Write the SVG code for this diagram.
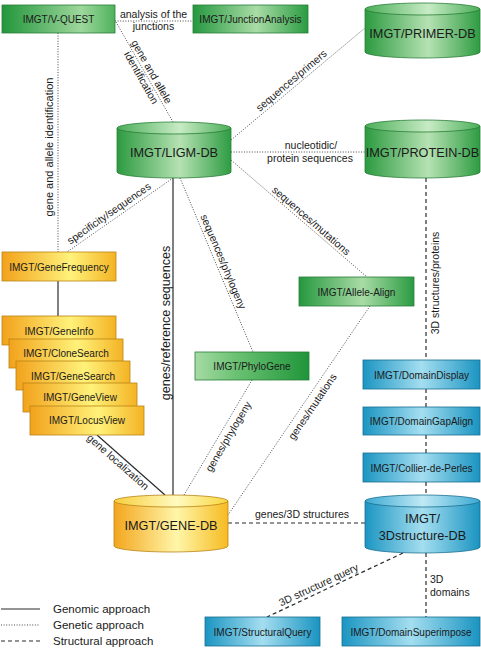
<svg xmlns="http://www.w3.org/2000/svg" width="481" height="648" viewBox="0 0 481 648">
<defs>
<linearGradient id="gLR" x1="0" y1="0" x2="1" y2="0">
<stop offset="0" stop-color="#22963c"/><stop offset="0.7" stop-color="#9ed79c"/><stop offset="1" stop-color="#4fb35d"/>
</linearGradient>
<linearGradient id="gRL" x1="0" y1="0" x2="1" y2="0">
<stop offset="0" stop-color="#a6dba4"/><stop offset="0.35" stop-color="#6cc274"/><stop offset="1" stop-color="#1f9539"/>
</linearGradient>
<linearGradient id="gMid" x1="0" y1="0" x2="1" y2="0">
<stop offset="0" stop-color="#25983f"/><stop offset="0.55" stop-color="#a9dca6"/><stop offset="1" stop-color="#2a9b42"/>
</linearGradient>
<linearGradient id="gCyl" x1="0" y1="0" x2="1" y2="0">
<stop offset="0" stop-color="#2c9a40"/><stop offset="0.55" stop-color="#b6e2b3"/><stop offset="1" stop-color="#2e9c42"/>
</linearGradient>
<linearGradient id="gCylTop" x1="0" y1="0" x2="1" y2="0">
<stop offset="0" stop-color="#4aae58"/><stop offset="0.55" stop-color="#c8ebc5"/><stop offset="1" stop-color="#4aae58"/>
</linearGradient>
<linearGradient id="oBox" x1="0" y1="0" x2="1" y2="0">
<stop offset="0" stop-color="#f2a21c"/><stop offset="0.6" stop-color="#fff27a"/><stop offset="1" stop-color="#f4b324"/>
</linearGradient>
<linearGradient id="oCyl" x1="0" y1="0" x2="1" y2="0">
<stop offset="0" stop-color="#f3a61e"/><stop offset="0.55" stop-color="#fff6a8"/><stop offset="1" stop-color="#f6bb22"/>
</linearGradient>
<linearGradient id="oCylTop" x1="0" y1="0" x2="1" y2="0">
<stop offset="0" stop-color="#f8cf3c"/><stop offset="0.55" stop-color="#fffac0"/><stop offset="1" stop-color="#f9d53c"/>
</linearGradient>
<linearGradient id="bBox" x1="0" y1="0" x2="1" y2="0">
<stop offset="0" stop-color="#1b95c2"/><stop offset="0.5" stop-color="#a4def0"/><stop offset="1" stop-color="#1a94c1"/>
</linearGradient>
<linearGradient id="bCylTop" x1="0" y1="0" x2="1" y2="0">
<stop offset="0" stop-color="#3aa9d2"/><stop offset="0.5" stop-color="#c0e9f5"/><stop offset="1" stop-color="#3aa9d2"/>
</linearGradient>
</defs>
<style>
text{font-family:"Liberation Sans",Arial,sans-serif;fill:#1a1a1a}
.bl{font-size:10px;text-anchor:middle}
.cl{font-size:12.7px;text-anchor:middle}
.el{font-size:10.5px;text-anchor:middle}
.lg{font-size:11.5px}
.gb{stroke:#2a7d39;stroke-width:0.8}
.ob{stroke:#b98415;stroke-width:0.8}
.bb{stroke:#1b6f91;stroke-width:0.8}
.solid{stroke:#2b2b2b;stroke-width:1.2;fill:none}
.dot{stroke:#4a4a4a;stroke-width:1;stroke-dasharray:1 1.6;fill:none}
.dash{stroke:#2b2b2b;stroke-width:1.2;stroke-dasharray:4 3;fill:none}
</style>

<g id="connectors">
<line class="dot" x1="115" y1="21" x2="193" y2="21"/>
<line class="dot" x1="116" y1="22" x2="173" y2="122"/>
<line class="dot" x1="58" y1="33" x2="58" y2="252"/>
<line class="dot" x1="231" y1="140" x2="365" y2="28"/>
<line class="dot" x1="231" y1="152" x2="365" y2="152"/>
<line class="dot" x1="231" y1="160" x2="367" y2="277"/>
<line class="dot" x1="173" y1="178" x2="67" y2="252"/>
<line class="solid" x1="173" y1="178" x2="173" y2="495"/>
<line class="dot" x1="180" y1="178" x2="253" y2="352"/>
<line class="dot" x1="252" y1="380" x2="184" y2="495"/>
<line class="dot" x1="370" y1="306" x2="228" y2="515"/>
<line class="solid" x1="58" y1="281" x2="58" y2="316"/>
<line class="solid" x1="97" y1="435" x2="165" y2="495"/>
<line class="dash" x1="426" y1="178" x2="426" y2="360"/>
<line class="dash" x1="426" y1="389" x2="426" y2="407"/>
<line class="dash" x1="426" y1="435" x2="426" y2="453"/>
<line class="dash" x1="426" y1="482" x2="426" y2="495"/>
<line class="dash" x1="228" y1="523" x2="365" y2="523"/>
<line class="dash" x1="403" y1="553" x2="267" y2="617"/>
<line class="dash" x1="426" y1="553" x2="426" y2="617"/>

<text class="el" x="153.5" y="18">analysis of the</text>
<text class="el" x="153.5" y="30">junctions</text>
<g transform="translate(146,75) rotate(60.3)">
<text class="el" x="0" y="-3">gene and allele</text>
<text class="el" x="0" y="9">identification</text>
</g>
<text class="el" style="font-size:11px" transform="translate(53,147) rotate(-90)" x="0" y="0">gene and allele identification</text>
<text class="el" transform="translate(295.6,85.6) rotate(-40.1)" x="0" y="-3">sequences/primers</text>
<text class="el" x="311" y="149">nucleotidic/</text>
<text class="el" x="310" y="161.5">protein sequences</text>
<text class="el" transform="translate(306.9,225.7) rotate(40.9)" x="0" y="-3">sequences/mutations</text>
<text class="el" transform="translate(113.3,219.7) rotate(-34.9)" x="0" y="-4">specificity/sequences</text>
<text class="el" style="font-size:12.5px" transform="translate(170,323) rotate(-90)" x="0" y="0">genes/reference sequences</text>
<text class="el" transform="translate(216.3,264.6) rotate(67.2)" x="0" y="-4">sequences/phylogeny</text>
<text class="el" transform="translate(221.1,432.3) rotate(-59.4)" x="0" y="12">genes/phylogeny</text>
<text class="el" transform="translate(305.1,401.6) rotate(-55.8)" x="0" y="12.5">genes/mutations</text>
<text class="el" transform="translate(122.2,457.2) rotate(41.4)" x="0" y="10">gene localization</text>
<text class="el" transform="translate(438.5,283) rotate(-90)" x="0" y="0">3D structures/proteins</text>
<text class="el" x="302" y="518">genes/3D structures</text>
<text class="el" transform="translate(321.6,591.3) rotate(-25.2)" x="0" y="-3.5">3D structure query</text>
<text class="el" style="text-anchor:start" x="430" y="583">3D</text>
<text class="el" style="text-anchor:start" x="430" y="596">domains</text>
</g>

<g id="vquest"><rect class="gb" x="2" y="5" width="113" height="28" fill="url(#gLR)"/><text class="bl" x="58.5" y="23">IMGT/V-QUEST</text></g>
<g id="junctionanalysis"><rect class="gb" x="193" y="5" width="115" height="28" fill="url(#gMid)"/><text class="bl" x="250.5" y="23">IMGT/JunctionAnalysis</text></g>

<g id="primerdb">
<path class="gb" d="M365,9 V52 A57.5,6 0 0 0 480,52 V9 Z" fill="url(#gCyl)"/>
<ellipse class="gb" cx="422.5" cy="9" rx="57.5" ry="6" fill="url(#gCylTop)"/>
<text class="cl" x="422.5" y="38">IMGT/PRIMER-DB</text>
</g>
<g id="ligmdb">
<path class="gb" d="M117,128 V172 A57,6 0 0 0 231,172 V128 Z" fill="url(#gCyl)"/>
<ellipse class="gb" cx="174" cy="128" rx="57" ry="6" fill="url(#gCylTop)"/>
<text class="cl" x="174" y="157">IMGT/LIGM-DB</text>
</g>
<g id="proteindb">
<path class="gb" d="M365,126 V172 A57.5,6 0 0 0 480,172 V126 Z" fill="url(#gCyl)"/>
<ellipse class="gb" cx="422.5" cy="126" rx="57.5" ry="6" fill="url(#gCylTop)"/>
<text class="cl" x="422.5" y="157">IMGT/PROTEIN-DB</text>
</g>

<g id="genefrequency"><rect class="ob" x="2" y="252" width="114" height="29" fill="url(#oBox)"/><text class="bl" x="59" y="270.5">IMGT/GeneFrequency</text></g>
<g id="geneinfo"><rect class="ob" x="2" y="316" width="114" height="29" fill="url(#oBox)"/><text class="bl" x="59" y="334.5">IMGT/GeneInfo</text></g>
<g id="clonesearch"><rect class="ob" x="9" y="339" width="114" height="29" fill="url(#oBox)"/><text class="bl" x="66" y="357">IMGT/CloneSearch</text></g>
<g id="genesearch"><rect class="ob" x="16" y="361" width="114" height="29" fill="url(#oBox)"/><text class="bl" x="73" y="380">IMGT/GeneSearch</text></g>
<g id="geneview"><rect class="ob" x="23" y="383" width="114" height="29" fill="url(#oBox)"/><text class="bl" x="80" y="401">IMGT/GeneView</text></g>
<g id="locusview"><rect class="ob" x="30" y="406" width="114" height="29" fill="url(#oBox)"/><text class="bl" x="87" y="424">IMGT/LocusView</text></g>

<g id="allelealign"><rect class="gb" x="299" y="277" width="115" height="29" fill="url(#gMid)"/><text class="bl" x="356.5" y="295.5">IMGT/Allele-Align</text></g>
<g id="phylogene"><rect class="gb" x="195" y="352" width="114" height="28" fill="url(#gRL)"/><text class="bl" x="252" y="370">IMGT/PhyloGene</text></g>

<g id="domaindisplay"><rect class="bb" x="363" y="360" width="117" height="29" fill="url(#bBox)"/><text class="bl" x="421.5" y="378.5">IMGT/DomainDisplay</text></g>
<g id="domaingapalign"><rect class="bb" x="363" y="407" width="117" height="28" fill="url(#bBox)"/><text class="bl" x="421.5" y="425">IMGT/DomainGapAlign</text></g>
<g id="collierdeperles"><rect class="bb" x="363" y="453" width="117" height="29" fill="url(#bBox)"/><text class="bl" x="421.5" y="471.5">IMGT/Collier-de-Perles</text></g>

<g id="genedb">
<path class="ob" d="M114,501 V546 A57,6 0 0 0 228,546 V501 Z" fill="url(#oCyl)"/>
<ellipse class="ob" cx="171" cy="501" rx="57" ry="6" fill="url(#oCylTop)"/>
<text class="cl" x="171" y="530">IMGT/GENE-DB</text>
</g>
<g id="structuredb">
<path class="bb" d="M365,501 V547 A57.5,6 0 0 0 480,547 V501 Z" fill="url(#bBox)"/>
<ellipse class="bb" cx="422.5" cy="501" rx="57.5" ry="6" fill="url(#bCylTop)"/>
<text class="cl" x="422.5" y="523">IMGT/</text>
<text class="cl" x="422.5" y="540">3Dstructure-DB</text>
</g>

<g id="structuralquery"><rect class="bb" x="205" y="617" width="115" height="29" fill="url(#bBox)"/><text class="bl" x="262.5" y="635.5">IMGT/StructuralQuery</text></g>
<g id="domainsuperimpose"><rect class="bb" x="342" y="617" width="138" height="29" fill="url(#bBox)"/><text class="bl" x="411" y="635.5">IMGT/DomainSuperimpose</text></g>

<g id="legend">
<line class="solid" x1="1" y1="609" x2="40" y2="609"/>
<line class="dot" x1="1" y1="625" x2="40" y2="625"/>
<line class="dash" x1="1" y1="641" x2="40" y2="641"/>
<text class="lg" x="53" y="613">Genomic approach</text>
<text class="lg" x="53" y="629">Genetic approach</text>
<text class="lg" x="53" y="645">Structural approach</text>
</g>
</svg>
